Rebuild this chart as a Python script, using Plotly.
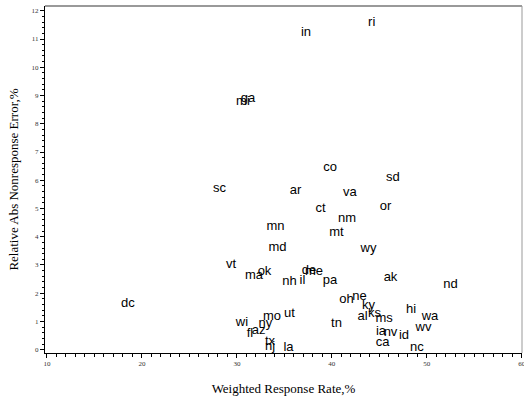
import plotly.graph_objects as go

states = ["ri","in","ga","mi","co","sd","sc","ar","va","or","ct","nm","mn","mt","md","wy",
          "vt","ma","ok","de","me","ak","il","nh","pa","nd","ne","dc","oh","ky","hi","ks",
          "al","ms","mo","ut","wa","wi","tn","ny","wv","az","fl","ia","nv","id","ca","tx",
          "nj","la","nc"]
response_rate = [44.20,37.28,31.17,30.64,39.81,46.44,28.17,36.17,41.91,45.65,38.81,41.60,34.07,40.49,34.28,43.86,
                 29.38,31.80,32.91,37.60,38.12,46.18,36.91,35.54,39.81,52.50,42.92,18.53,41.55,43.86,48.34,44.50,
                 43.23,45.50,33.70,35.54,50.34,30.54,40.49,33.01,49.66,32.28,31.38,45.18,46.18,47.60,45.34,33.49,
                 33.49,35.44,48.97]
nonresponse_error = [11.56,11.21,8.87,8.77,6.43,6.08,5.71,5.62,5.55,5.05,4.98,4.63,4.34,4.13,3.62,3.59,
                     3.02,2.63,2.75,2.79,2.77,2.55,2.43,2.40,2.45,2.29,1.87,1.64,1.78,1.55,1.42,1.28,
                     1.17,1.11,1.16,1.29,1.15,0.95,0.93,0.93,0.78,0.68,0.57,0.63,0.60,0.48,0.25,0.28,
                     0.11,0.08,0.07]
x_ticks = [10, 20, 30, 40, 50, 60]
y_ticks = list(range(0, 13))

fig = go.Figure(go.Scatter(
    x=response_rate, y=nonresponse_error, text=states, mode="text",
    textposition="middle center",
    textfont=dict(family="Liberation Sans, Arial", size=13, color="black"),
    hoverinfo="skip",
))

serif = "Liberation Serif, Times New Roman"
fig.update_layout(
    width=524, height=398,
    margin=dict(l=45, r=2, t=6, b=45),
    paper_bgcolor="white", plot_bgcolor="white",
    showlegend=False,
    xaxis=dict(
        range=[9.79, 60.03], tickvals=x_ticks, ticks="outside", ticklen=4, tickcolor="black",
        showline=True, linecolor="black", linewidth=1, showgrid=False, zeroline=False,
        automargin=False, ticklabeloverflow="allow",
        tickfont=dict(family=serif, size=7, color="#333"),
        minor=dict(dtick=1, ticks="outside", ticklen=3, tickcolor="black", showgrid=False),
        title=dict(text="Weighted Response Rate,%", font=dict(family=serif, size=13, color="black"), standoff=16),
    ),
    yaxis=dict(
        range=[-0.117, 12.17], tickvals=y_ticks, ticks="outside", ticklen=4, tickcolor="black",
        showline=True, linecolor="black", linewidth=1, showgrid=False, zeroline=False,
        automargin=False,
        tickfont=dict(family=serif, size=7, color="#333"),
        minor=dict(dtick=0.2, ticks="outside", ticklen=2, tickcolor="black", showgrid=False),
        title=dict(text="Relative Abs Nonresponse Error,%", font=dict(family=serif, size=13, color="black"), standoff=10),
    ),
    shapes=[
        dict(type="line", xref="paper", yref="paper", x0=0, x1=1, y0=1, y1=1,
             line=dict(color="#999999", width=2)),
        dict(type="line", xref="paper", yref="paper", x0=1, x1=1, y0=0, y1=1,
             line=dict(color="#999999", width=1)),
    ],
)

fig.write_html("out.html", config={"displayModeBar": False},
               post_script="document.body.style.margin='0';document.body.style.overflow='hidden';")
